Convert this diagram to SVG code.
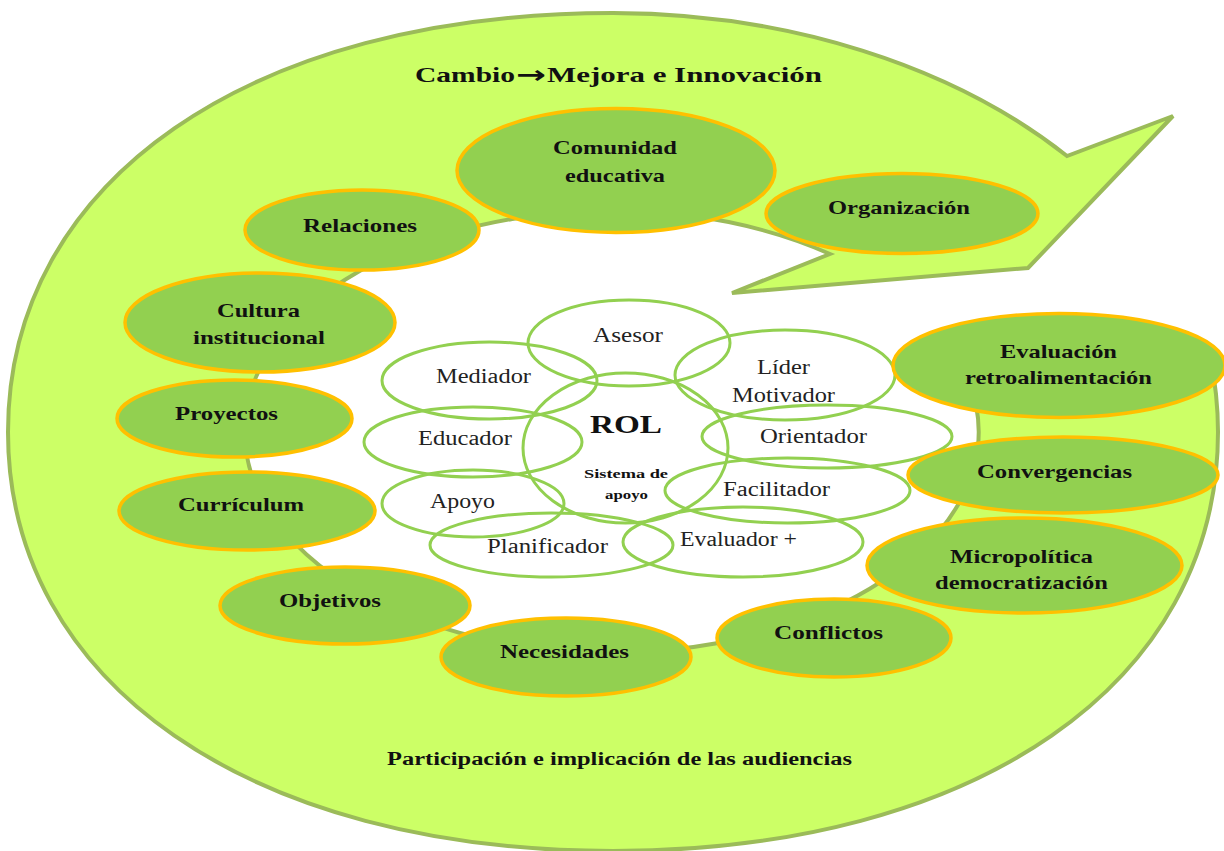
<svg xmlns="http://www.w3.org/2000/svg" width="1224" height="851" viewBox="0 0 1224 851">
<style>
.big{fill:#ccff66;stroke:#9bbb59;stroke-width:4;stroke-linejoin:miter}
.node ellipse{fill:#92d050;stroke:#ffc000;stroke-width:3.5}
.role ellipse{fill:none;stroke:#92d050;stroke-width:3}
.lbl{font-family:"Liberation Serif","Times New Roman",serif;font-weight:bold;font-size:19px;fill:#111;text-anchor:middle}
.rl{font-family:"Liberation Serif","Times New Roman",serif;font-size:20px;fill:#222;text-anchor:middle}
.hd{font-family:"Liberation Serif","Times New Roman",serif;font-weight:bold;fill:#111}
.arw{font-family:"DejaVu Sans",sans-serif;font-weight:bold}
</style>
<rect width="1224" height="851" fill="#ffffff"/>
<g id="cycle-arrow">
<path class="big" d="M1210,355 C1215,380 1218,405 1218,432 C1218,683 976,851 613,851 C250,851 8,683 8,432 C8,181 250,13 613,13 A605 419 0 0 1 1067,156 L1173,116 L1028,268 L732,293 L830,254 A367 221 0 1 0 976,405 Z"/>
</g>
<g id="title">
<text class="hd" x="415" y="82" font-size="22" textLength="100" lengthAdjust="spacingAndGlyphs">Cambio</text>
<text class="hd arw" x="516" y="83" font-size="24" textLength="30" lengthAdjust="spacingAndGlyphs">→</text>
<text class="hd" x="547" y="82" font-size="22" textLength="275" lengthAdjust="spacingAndGlyphs">Mejora e  Innovación</text>
</g>
<g id="footer"><text class="hd" x="619.5" y="765" font-size="18" text-anchor="middle" textLength="465" lengthAdjust="spacingAndGlyphs">Participación e implicación de las audiencias</text></g>

<g id="role-cluster" class="role">
<g id="r-asesor"><ellipse cx="629" cy="343" rx="101" ry="43"/><text class="rl" x="628" y="342" textLength="70" lengthAdjust="spacingAndGlyphs">Asesor</text></g>
<g id="r-mediador"><ellipse cx="489.5" cy="380.5" rx="107.5" ry="38.5"/><text class="rl" x="483.5" y="383" textLength="95" lengthAdjust="spacingAndGlyphs">Mediador</text></g>
<g id="r-lider"><ellipse cx="785" cy="375" rx="110" ry="45"/><text class="rl" x="783.5" y="374" textLength="53" lengthAdjust="spacingAndGlyphs">Líder</text><text class="rl" x="783.5" y="402" textLength="103" lengthAdjust="spacingAndGlyphs">Motivador</text></g>
<g id="r-rol"><ellipse cx="625.5" cy="448" rx="102.5" ry="75"/><text class="hd" x="626" y="433" font-size="26" text-anchor="middle" textLength="72" lengthAdjust="spacingAndGlyphs">ROL</text><text class="hd" x="626" y="478" font-size="13" text-anchor="middle" textLength="84" lengthAdjust="spacingAndGlyphs">Sistema de</text><text class="hd" x="626.5" y="499" font-size="13" text-anchor="middle" textLength="43" lengthAdjust="spacingAndGlyphs">apoyo</text></g>
<g id="r-educador"><ellipse cx="473" cy="442" rx="109" ry="35"/><text class="rl" x="465" y="445" textLength="94" lengthAdjust="spacingAndGlyphs">Educador</text></g>
<g id="r-orientador"><ellipse cx="827" cy="436.5" rx="125" ry="31.5"/><text class="rl" x="813.5" y="443" textLength="107" lengthAdjust="spacingAndGlyphs">Orientador</text></g>
<g id="r-apoyo"><ellipse cx="473" cy="503.5" rx="91" ry="33.5"/><text class="rl" x="462.5" y="508" textLength="65" lengthAdjust="spacingAndGlyphs">Apoyo</text></g>
<g id="r-facilitador"><ellipse cx="787.5" cy="490.5" rx="122.5" ry="32.5"/><text class="rl" x="776.5" y="496" textLength="107" lengthAdjust="spacingAndGlyphs">Facilitador</text></g>
<g id="r-planificador"><ellipse cx="551.5" cy="545" rx="121.5" ry="32"/><text class="rl" x="547.5" y="553" textLength="121" lengthAdjust="spacingAndGlyphs">Planificador</text></g>
<g id="r-evaluador"><ellipse cx="743" cy="542" rx="120" ry="35"/><text class="rl" x="738.5" y="546" textLength="117" lengthAdjust="spacingAndGlyphs">Evaluador +</text></g>
</g>

<g id="n-comunidad" class="node"><ellipse cx="616" cy="170.5" rx="159" ry="62"/><text class="lbl" x="615" y="154" textLength="124" lengthAdjust="spacingAndGlyphs">Comunidad</text><text class="lbl" x="615" y="182" textLength="100" lengthAdjust="spacingAndGlyphs">educativa</text></g>
<g id="n-relaciones" class="node"><ellipse cx="362" cy="230" rx="117" ry="40"/><text class="lbl" x="360" y="232" textLength="114" lengthAdjust="spacingAndGlyphs">Relaciones</text></g>
<g id="n-organizacion" class="node"><ellipse cx="902" cy="213.5" rx="136" ry="40"/><text class="lbl" x="899" y="214" textLength="142" lengthAdjust="spacingAndGlyphs">Organización</text></g>
<g id="n-cultura" class="node"><ellipse cx="260" cy="322.5" rx="135" ry="49.5"/><text class="lbl" x="258.5" y="317" textLength="83" lengthAdjust="spacingAndGlyphs">Cultura</text><text class="lbl" x="259" y="344" textLength="132" lengthAdjust="spacingAndGlyphs">institucional</text></g>
<g id="n-proyectos" class="node"><ellipse cx="234.5" cy="418.5" rx="117.5" ry="38.5"/><text class="lbl" x="226.5" y="420" textLength="103" lengthAdjust="spacingAndGlyphs">Proyectos</text></g>
<g id="n-curriculum" class="node"><ellipse cx="247" cy="511" rx="128" ry="39"/><text class="lbl" x="241" y="511" textLength="126" lengthAdjust="spacingAndGlyphs">Currículum</text></g>
<g id="n-objetivos" class="node"><ellipse cx="345" cy="605.5" rx="125" ry="38.5"/><text class="lbl" x="330" y="607" textLength="102" lengthAdjust="spacingAndGlyphs">Objetivos</text></g>
<g id="n-necesidades" class="node"><ellipse cx="566" cy="657" rx="125" ry="39"/><text class="lbl" x="564.5" y="658" textLength="129" lengthAdjust="spacingAndGlyphs">Necesidades</text></g>
<g id="n-conflictos" class="node"><ellipse cx="834" cy="638" rx="117" ry="39"/><text class="lbl" x="828.5" y="639" textLength="109" lengthAdjust="spacingAndGlyphs">Conflictos</text></g>
<g id="n-micropolitica" class="node"><ellipse cx="1024.5" cy="565.5" rx="157.5" ry="47.5"/><text class="lbl" x="1021.5" y="563" textLength="143" lengthAdjust="spacingAndGlyphs">Micropolítica</text><text class="lbl" x="1021.5" y="589" textLength="173" lengthAdjust="spacingAndGlyphs">democratización</text></g>
<g id="n-convergencias" class="node"><ellipse cx="1063" cy="475" rx="155" ry="38"/><text class="lbl" x="1054.5" y="478" textLength="155" lengthAdjust="spacingAndGlyphs">Convergencias</text></g>
<g id="n-evaluacion" class="node"><ellipse cx="1059" cy="365.5" rx="166" ry="52"/><text class="lbl" x="1058.5" y="358" textLength="117" lengthAdjust="spacingAndGlyphs">Evaluación</text><text class="lbl" x="1058.5" y="384" textLength="187" lengthAdjust="spacingAndGlyphs">retroalimentación</text></g>
</svg>
